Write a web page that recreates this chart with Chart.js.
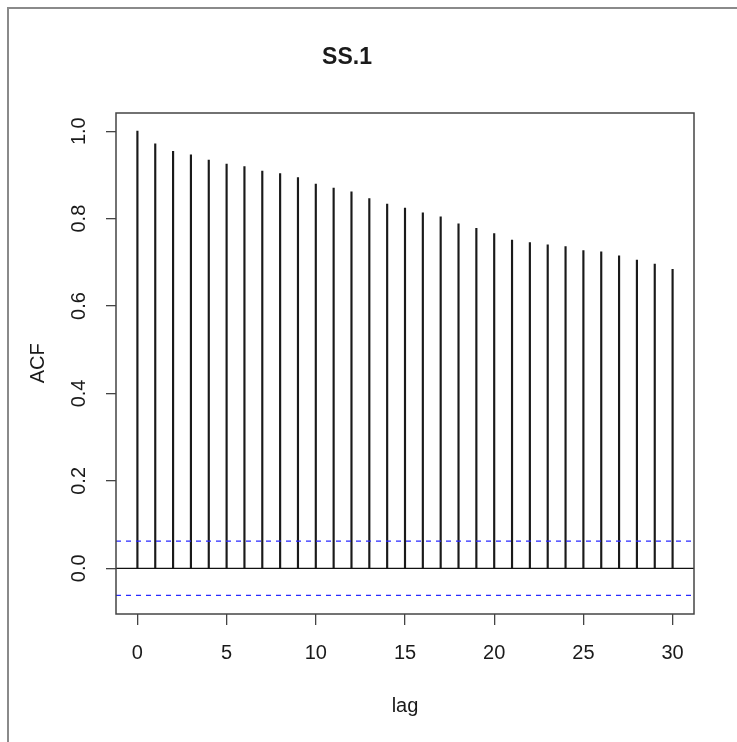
<!DOCTYPE html>
<html>
<head>
<meta charset="utf-8">
<script src="https://cdn.jsdelivr.net/npm/chart.js@4"></script>
<style>
  html, body { margin: 0; padding: 0; background: #fff; }
  #frame { position: absolute; left: 7px; top: 7px; width: 760px; height: 760px;
           border-left: 2px solid #8a8a8a; border-top: 2px solid #8a8a8a; }
  #acf { position: absolute; left: 0; top: 0; }
</style>
</head>
<body>
<div id="frame"></div>
<canvas id="acf" width="737" height="742"></canvas>
<script>
// lags and autocorrelations
var lags = [0, 1, 2, 3, 4, 5, 6, 7, 8, 9, 10, 11, 12, 13, 14, 15,
            16, 17, 18, 19, 20, 21, 22, 23, 24, 25, 26, 27, 28, 29, 30];
var acfValues = [1.000, 0.971, 0.954, 0.946, 0.934, 0.925, 0.919, 0.909, 0.903, 0.894, 0.879,
                 0.870, 0.861, 0.846, 0.833, 0.824, 0.813, 0.804, 0.788, 0.778, 0.766,
                 0.751, 0.745, 0.740, 0.736, 0.727, 0.724, 0.715, 0.705, 0.696, 0.684];
var confLimit = 0.062;
var xRange = [-1.2, 31.2];
var yRange = [-0.1045, 1.0425];
var xTicks = [0, 5, 10, 15, 20, 25, 30];
var yTicks = [0.0, 0.2, 0.4, 0.6, 0.8, 1.0];

var fontFamily = '"Liberation Sans", Arial, sans-serif';
var textColor = '#1a1a1a';
var axisColor = '#444';

function hline(y) {
    return [{ x: xRange[0], y: y }, { x: xRange[1], y: y }];
}

// R style box around the plot region
var boxPlugin = {
    id: 'box',
    afterDatasetsDraw: function(chart) {
        var a = chart.chartArea, c = chart.ctx;
        c.save();
        c.strokeStyle = axisColor;
        c.lineWidth = 1.5;
        c.strokeRect(Math.round(a.left), Math.round(a.top),
                     Math.round(a.right) - Math.round(a.left), Math.round(a.bottom) - Math.round(a.top));
        c.restore();
    }
};

var ctx = document.getElementById('acf').getContext('2d');
var chart = new Chart(ctx, {
    type: 'bar',
    data: {
        datasets: [
            {
                type: 'line',
                data: hline(confLimit),
                borderColor: '#2a2aff',
                borderWidth: 1.2,
                borderDash: [5, 5],
                pointRadius: 0,
                order: 1
            },
            {
                type: 'line',
                data: hline(-confLimit),
                borderColor: '#2a2aff',
                borderWidth: 1.2,
                borderDash: [5, 5],
                pointRadius: 0,
                order: 1
            },
            {
                type: 'line',
                data: hline(0),
                borderColor: '#111',
                borderWidth: 1.2,
                pointRadius: 0,
                order: 2
            },
            {
                label: 'ACF',
                data: lags.map(function(l, i) { return { x: l, y: acfValues[i] }; }),
                backgroundColor: '#1a1a1a',
                barThickness: 1.5,
                order: 3
            }
        ]
    },
    options: {
        responsive: false,
        animation: false,
        devicePixelRatio: 1,
        layout: { padding: { left: 0, right: 43, top: 0, bottom: 0 } },
        plugins: {
            legend: { display: false },
            tooltip: { enabled: false },
            title: {
                display: true,
                text: 'SS.1',
                color: textColor,
                font: { family: fontFamily, size: 23, weight: 'bold' },
                padding: { top: 44, bottom: 41 }
            }
        },
        scales: {
            x: {
                type: 'linear',
                min: xRange[0],
                max: xRange[1],
                offset: false,
                border: { display: false },
                grid: { display: true, drawOnChartArea: false, drawTicks: true,
                        tickLength: 11, color: axisColor, lineWidth: 1.3, offset: false },
                afterBuildTicks: function(s) { s.ticks = xTicks.map(function(v) { return { value: v }; }); },
                afterFit: function(s) { s.height = 128; },
                ticks: {
                    color: textColor,
                    font: { family: fontFamily, size: 20 },
                    padding: 16,
                    maxRotation: 0,
                    autoSkip: false,
                    callback: function(v) { return String(v); }
                },
                title: {
                    display: true,
                    text: 'lag',
                    color: textColor,
                    font: { family: fontFamily, size: 20 },
                    padding: { top: 0, bottom: 24 }
                }
            },
            y: {
                min: yRange[0],
                max: yRange[1],
                border: { display: false },
                grid: { display: true, drawOnChartArea: false, drawTicks: true,
                        tickLength: 10, color: axisColor, lineWidth: 1.3 },
                afterBuildTicks: function(s) { s.ticks = yTicks.map(function(v) { return { value: v }; }); },
                afterFit: function(s) { s.width = 116; },
                ticks: {
                    color: textColor,
                    font: { family: fontFamily, size: 20 },
                    padding: 13,
                    minRotation: 90,
                    maxRotation: 90,
                    crossAlign: 'center',
                    autoSkip: false,
                    callback: function(v) { return v.toFixed(1); }
                },
                title: {
                    display: true,
                    text: 'ACF',
                    color: textColor,
                    font: { family: fontFamily, size: 20 },
                    padding: { top: 26, bottom: 0 }
                }
            }
        }
    },
    plugins: [boxPlugin]
});
</script>
</body>
</html>
